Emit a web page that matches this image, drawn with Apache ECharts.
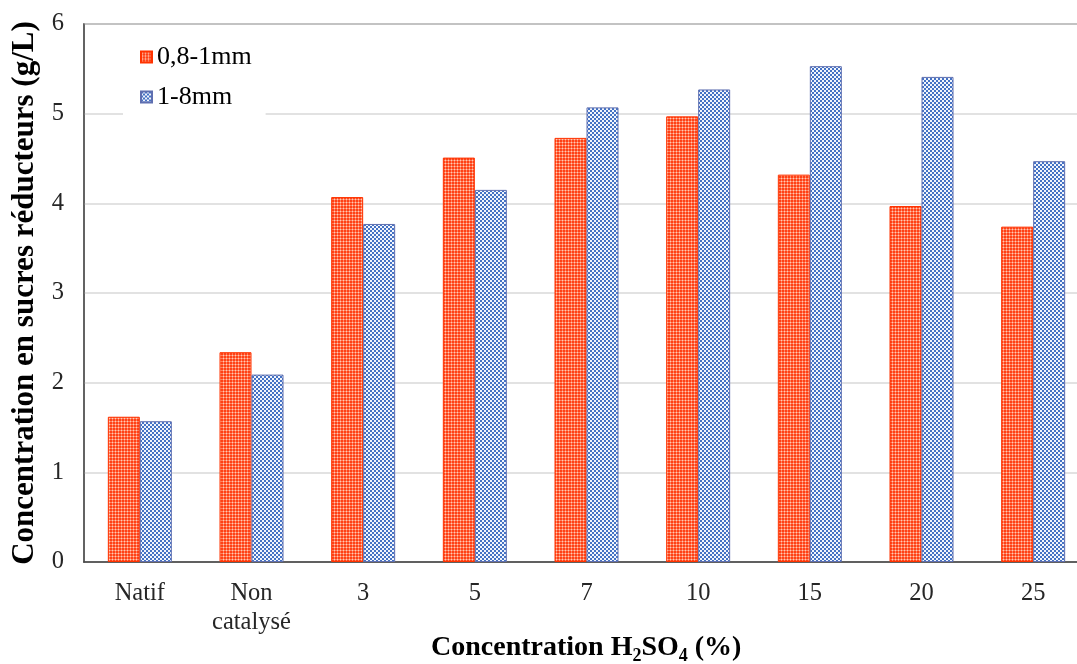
<!DOCTYPE html>
<html>
<head>
<meta charset="utf-8">
<script src="https://cdn.jsdelivr.net/npm/echarts@6/dist/echarts.min.js"></script>
<style>
html,body{margin:0;padding:0;background:#fff;}
#chart{width:1077px;height:664px;}
</style>
</head>
<body>
<div id="chart"></div>
<script>
const categories = ['Natif', 'Non\ncatalysé', '3', '5', '7', '10', '15', '20', '25'];
const seriesNames = ['0,8-1mm', '1-8mm'];
const fine = [1.62, 2.34, 4.07, 4.51, 4.73, 4.97, 4.32, 3.97, 3.74];
const coarse = [1.57, 2.09, 3.77, 4.15, 5.07, 5.27, 5.53, 5.41, 4.47];
const yTicks = [0, 1, 2, 3, 4, 5, 6];

function makeRedPattern() {
  const c = document.createElement('canvas');
  c.width = 3; c.height = 3;
  const g = c.getContext('2d');
  g.fillStyle = '#FF4016'; g.fillRect(0, 0, 3, 3);
  g.fillStyle = '#FF825E'; g.fillRect(1, 0, 1, 3);
  g.fillStyle = '#FF825E'; g.fillRect(0, 1, 3, 1);
  g.fillStyle = '#FFC8B8'; g.fillRect(1, 1, 1, 1);
  return c;
}
function makeBluePattern() {
  const c = document.createElement('canvas');
  c.width = 4; c.height = 4;
  const g = c.getContext('2d');
  g.fillStyle = '#F2F5FC'; g.fillRect(0, 0, 4, 4);
  g.fillStyle = '#4472C4';
  g.fillRect(0, 0, 2, 2);
  g.fillRect(2, 2, 2, 2);
  return c;
}
const redPat = { image: makeRedPattern(), repeat: 'repeat' };
const bluePat = { image: makeBluePattern(), repeat: 'repeat' };

const serif = '"Liberation Serif", "Times New Roman", serif';
const chart = echarts.init(document.getElementById('chart'), null, { renderer: 'canvas' });
chart.setOption({
  animation: false,
  backgroundColor: '#fff',
  grid: {
    left: 84, top: 24, width: 1005, height: 538,
    outerBoundsMode: 'none', containLabel: false,
    show: true, borderColor: '#595959', borderWidth: 1.5, backgroundColor: 'transparent'
  },
  legend: {
    orient: 'vertical', left: 123, top: 34,
    padding: [10, 14, 8, 17],
    backgroundColor: '#fff',
    itemWidth: 11, itemHeight: 11, itemGap: 14,
    icon: 'rect',
    textStyle: { fontFamily: serif, fontSize: 26, color: '#000' },
    data: seriesNames
  },
  xAxis: {
    type: 'category',
    data: categories,
    axisLine: { lineStyle: { color: '#404040', width: 1.5 } },
    axisTick: { show: false },
    axisLabel: { fontFamily: serif, fontSize: 24.5, color: '#262626', margin: 17, lineHeight: 29 }
  },
  yAxis: {
    type: 'value',
    min: yTicks[0], max: yTicks[yTicks.length - 1], interval: 1,
    axisLine: { show: true, lineStyle: { color: '#595959', width: 1.5 } },
    axisTick: { show: false },
    splitLine: { lineStyle: { color: '#D9D9D9', width: 1.5 } },
    axisLabel: { fontFamily: serif, fontSize: 24.5, color: '#262626', margin: 20 },
    name: 'Concentration en sucres réducteurs (g/L)',
    nameLocation: 'middle',
    nameGap: 35,
    nameTextStyle: { fontFamily: serif, fontSize: 31, fontWeight: 'bold', color: '#000' }
  },
  graphic: [{
    type: 'text',
    left: 431,
    top: 634,
    style: {
      text: '{a|Concentration H}{s|2}{a|SO}{s|4}{a| (%)}',
      rich: {
        a: { fontFamily: serif, fontSize: 28, fontWeight: 'bold', fill: '#000', lineHeight: 30, verticalAlign: 'bottom' },
        s: { fontFamily: serif, fontSize: 18, fontWeight: 'bold', fill: '#000', lineHeight: 30, verticalAlign: 'bottom', padding: [0, 0, -3, 0] }
      }
    }
  }],
  series: [
    {
      name: seriesNames[0], type: 'bar', data: fine,
      barWidth: 32, barGap: '0%',
      itemStyle: { color: redPat, borderColor: '#FF3300', borderWidth: 1 }
    },
    {
      name: seriesNames[1], type: 'bar', data: coarse,
      barWidth: 32, barGap: '0%',
      itemStyle: { color: bluePat, borderColor: '#5F6FB0', borderWidth: 1 }
    }
  ]
});
</script>
</body>
</html>
